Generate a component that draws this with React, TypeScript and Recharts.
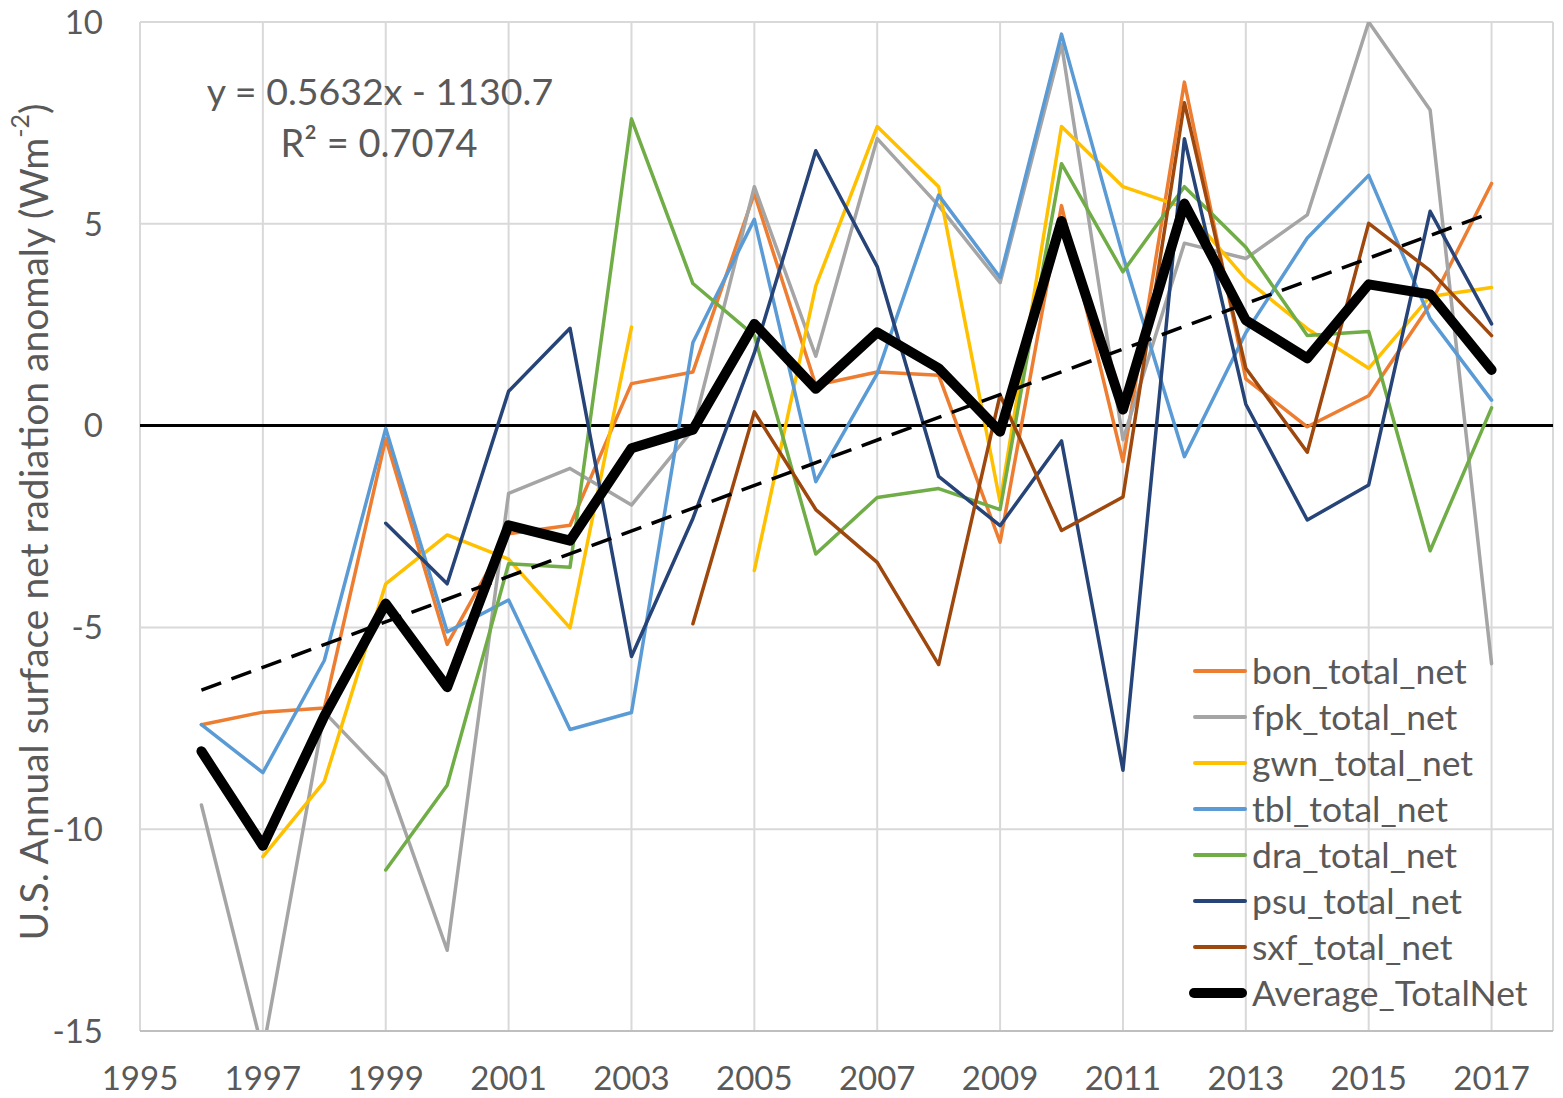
import React from "react";
import { LineChart, Line, XAxis, YAxis, CartesianGrid, ReferenceLine } from "recharts";

const years = [1996, 1997, 1998, 1999, 2000, 2001, 2002, 2003, 2004, 2005, 2006, 2007, 2008, 2009, 2010, 2011, 2012, 2013, 2014, 2015, 2016, 2017];

const bon = [-7.41, -7.1, -7.0, -0.32, -5.42, -2.68, -2.47, 1.04, 1.33, 5.75, 1.0, 1.33, 1.25, -2.89, 5.45, -0.89, 8.51, 1.16, -0.03, 0.74, 3.0, 6.0];
const fpk = [-9.4, -15.5, -7.1, -8.69, -13.0, -1.68, -1.06, -1.97, -0.1, 5.92, 1.72, 7.11, 5.45, 3.54, 9.45, -0.35, 4.52, 4.14, 5.22, 10.0, 7.82, -5.9];
const gwn = [null, -10.68, -8.82, -3.92, -2.71, -3.31, -5.01, 2.44, null, -3.59, 3.46, 7.41, 5.92, -1.89, 7.41, 5.92, 5.4, 3.63, 2.4, 1.42, 3.2, 3.42];
const tbl = [-7.41, -8.6, -5.82, -0.07, -5.11, -4.32, -7.53, -7.11, 2.06, 5.11, -1.39, 1.29, 5.71, 3.67, 9.7, 4.2, -0.77, 2.3, 4.65, 6.2, 2.65, 0.63];
const dra = [null, null, null, -11.01, -8.91, -3.42, -3.51, 7.6, 3.52, 2.23, -3.18, -1.78, -1.56, -2.08, 6.49, 3.81, 5.92, 4.42, 2.23, 2.33, -3.1, 0.44];
const psu = [null, null, null, -2.42, -3.92, 0.85, 2.41, -5.72, -2.3, 1.8, 6.81, 3.94, -1.26, -2.48, -0.38, -8.54, 7.11, 0.53, -2.34, -1.47, 5.31, 2.52];
const sxf = [null, null, null, null, null, null, null, null, -4.91, 0.34, -2.08, -3.39, -5.92, 0.76, -2.6, -1.77, 8.0, 1.42, -0.66, 5.01, 3.84, 2.23];
const average = [-8.07, -10.41, -7.2, -4.41, -6.48, -2.47, -2.85, -0.56, -0.1, 2.52, 0.91, 2.31, 1.42, -0.15, 5.07, 0.4, 5.5, 2.61, 1.67, 3.5, 3.25, 1.38];

// linear trendline as printed on the chart
const trendSlope = 0.5632;
const trendIntercept = -1130.7;
const trendStart = 1996;
const trendEnd = 2017;

const xTicks = [1995, 1997, 1999, 2001, 2003, 2005, 2007, 2009, 2011, 2013, 2015, 2017];
const yTicks = [-15, -10, -5, 0, 5, 10];

const series = [
  { key: "bon", name: "bon_total_net", color: "#ED7D31", width: 3.5 },
  { key: "fpk", name: "fpk_total_net", color: "#A5A5A5", width: 3.5 },
  { key: "gwn", name: "gwn_total_net", color: "#FFC000", width: 3.5 },
  { key: "tbl", name: "tbl_total_net", color: "#5B9BD5", width: 3.5 },
  { key: "dra", name: "dra_total_net", color: "#70AD47", width: 3.5 },
  { key: "psu", name: "psu_total_net", color: "#264478", width: 3.5 },
  { key: "sxf", name: "sxf_total_net", color: "#9E480E", width: 3.5 },
  { key: "average", name: "Average_TotalNet", color: "#000000", width: 10 },
];

const data = years.map((year, i) => ({
  year,
  bon: bon[i],
  fpk: fpk[i],
  gwn: gwn[i],
  tbl: tbl[i],
  dra: dra[i],
  psu: psu[i],
  sxf: sxf[i],
  average: average[i],
}));

const FONT = "Lato, 'Open Sans', sans-serif";
const TEXT = "#595959";

const YTitle = () => (
  <text
    x={33}
    y={522}
    transform="rotate(-90 33 522)"
    textAnchor="middle"
    dominantBaseline="central"
    fill={TEXT}
    fontSize={39}
    fontFamily={FONT}
  >
    U.S. Annual surface net radiation anomaly (Wm
    <tspan dy={-14} fontSize={25}>-2</tspan>
    <tspan dy={14}>)</tspan>
  </text>
);

export default function App() {
  return (
    <div style={{ position: "relative", width: 1563, height: 1098, background: "#fff", fontFamily: FONT }}>
      <style>{`body{margin:0;overflow:hidden;}`}</style>
      <LineChart width={1563} height={1098} data={data} margin={{ top: 22, right: 10, bottom: 17, left: 60 }}>
        <CartesianGrid stroke="#D9D9D9" strokeWidth={2} />
        <XAxis
          dataKey="year"
          type="number"
          domain={[1995, 2018]}
          ticks={xTicks}
          height={50}
          axisLine={{ stroke: "#BFBFBF", strokeWidth: 2 }}
          tickLine={false}
          tickSize={0}
          tickMargin={36}
          tick={{ fill: TEXT, fontSize: 33, fontFamily: FONT }}
        />
        <YAxis
          type="number"
          domain={[-15, 10]}
          ticks={yTicks}
          allowDataOverflow
          width={80}
          axisLine={false}
          tickLine={false}
          tickSize={0}
          tickMargin={37}
          tick={{ fill: TEXT, fontSize: 33, fontFamily: FONT }}
          label={<YTitle />}
        />
        <ReferenceLine y={0} stroke="#000" strokeWidth={3} />
        {series.map((s) => (
          <Line
            key={s.key}
            type="linear"
            dataKey={s.key}
            name={s.name}
            stroke={s.color}
            strokeWidth={s.width}
            strokeLinejoin="round"
            strokeLinecap="round"
            dot={false}
            activeDot={false}
            isAnimationActive={false}
          />
        ))}
        <ReferenceLine
          segment={[
            { x: trendStart, y: trendSlope * trendStart + trendIntercept },
            { x: trendEnd, y: trendSlope * trendEnd + trendIntercept },
          ]}
          stroke="#000"
          strokeWidth={3.5}
          strokeDasharray="21 11"
        />
      </LineChart>

      <div style={{ position: "absolute", left: 380, top: 90, transform: "translate(-50%, -50%)", color: TEXT, fontSize: 37.5, whiteSpace: "nowrap" }}>
        y = 0.5632x - 1130.7
      </div>
      <div style={{ position: "absolute", left: 379, top: 142, transform: "translate(-50%, -50%)", color: TEXT, fontSize: 38, whiteSpace: "nowrap" }}>
        R² = 0.7074
      </div>

      <div style={{ position: "absolute", left: 1193, top: 648 }}>
        {series.map((s) => (
          <div key={s.key} style={{ display: "flex", alignItems: "center", height: 46 }}>
            <div
              style={{
                width: s.width > 5 ? 58 : 54,
                marginLeft: s.width > 5 ? -4 : 0,
                height: s.width > 5 ? 10 : 3.5,
                borderRadius: 5,
                background: s.color,
              }}
            />
            <span style={{ marginLeft: 5, color: TEXT, fontSize: 35.5, whiteSpace: "nowrap", lineHeight: 1 }}>{s.name}</span>
          </div>
        ))}
      </div>
    </div>
  );
}
